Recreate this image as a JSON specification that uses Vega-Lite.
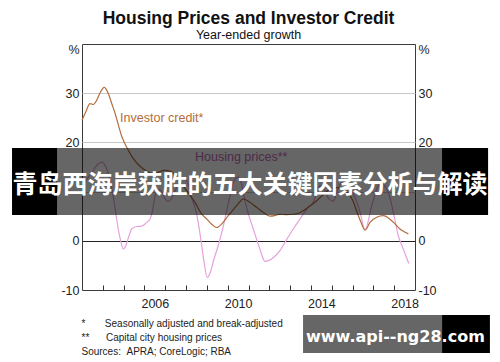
{
  "$schema": "https://vega.github.io/schema/vega-lite/v6.json",
  "width": 333,
  "height": 246,
  "autosize": {"type": "none"},
  "padding": {"left": 82, "top": 44, "right": 85, "bottom": 72},
  "background": "white",
  "title": {
    "text": "Housing Prices and Investor Credit",
    "subtitle": "Year-ended growth",
    "anchor": "middle",
    "font": "Liberation Sans",
    "fontSize": 17.5,
    "fontWeight": "bold",
    "color": "#111111",
    "subtitleFont": "Liberation Sans",
    "subtitleFontSize": 12.5,
    "subtitleColor": "#111111",
    "subtitlePadding": 2,
    "offset": 2
  },
  "config": {
    "view": {"stroke": "#3c3c3c", "strokeWidth": 1},
    "font": "Liberation Sans",
    "axis": {"labelFont": "Liberation Sans", "labelFontSize": 12.5, "labelColor": "#222222", "domain": false, "ticks": false, "grid": false}
  },
  "datasets": {
    "credit": [
      {"year": 2003.0, "value": 24.5}, {"year": 2003.2, "value": 26.4}, {"year": 2003.38, "value": 27.9}, {"year": 2003.54, "value": 27.7},
      {"year": 2003.71, "value": 28.6}, {"year": 2003.86, "value": 30.0}, {"year": 2004.07, "value": 31.2}, {"year": 2004.26, "value": 30.0},
      {"year": 2004.42, "value": 28.0}, {"year": 2004.59, "value": 25.9}, {"year": 2004.75, "value": 23.5}, {"year": 2004.91, "value": 21.2},
      {"year": 2005.0, "value": 20.3}, {"year": 2005.2, "value": 18.6}, {"year": 2005.45, "value": 16.8}, {"year": 2005.75, "value": 15.3},
      {"year": 2006.05, "value": 14.3}, {"year": 2006.35, "value": 13.7}, {"year": 2006.65, "value": 13.9}, {"year": 2006.95, "value": 14.3},
      {"year": 2007.25, "value": 14.1}, {"year": 2007.55, "value": 13.0}, {"year": 2007.85, "value": 11.2}, {"year": 2008.15, "value": 9.5},
      {"year": 2008.43, "value": 7.8}, {"year": 2008.72, "value": 5.6}, {"year": 2009.0, "value": 4.4}, {"year": 2009.25, "value": 3.3},
      {"year": 2009.47, "value": 2.7}, {"year": 2009.75, "value": 3.6}, {"year": 2010.03, "value": 5.1}, {"year": 2010.3, "value": 6.5},
      {"year": 2010.5, "value": 7.5}, {"year": 2010.75, "value": 8.5}, {"year": 2011.05, "value": 7.9}, {"year": 2011.39, "value": 6.8},
      {"year": 2011.7, "value": 5.8}, {"year": 2012.03, "value": 5.0}, {"year": 2012.25, "value": 5.1}, {"year": 2012.51, "value": 5.4},
      {"year": 2012.85, "value": 5.3}, {"year": 2013.15, "value": 5.4}, {"year": 2013.4, "value": 5.6}, {"year": 2013.63, "value": 6.1},
      {"year": 2013.95, "value": 7.1}, {"year": 2014.2, "value": 7.9}, {"year": 2014.44, "value": 8.8}, {"year": 2014.7, "value": 9.8},
      {"year": 2014.92, "value": 10.5}, {"year": 2015.2, "value": 10.8}, {"year": 2015.5, "value": 10.7}, {"year": 2015.75, "value": 9.8},
      {"year": 2016.0, "value": 8.3}, {"year": 2016.2, "value": 6.0}, {"year": 2016.4, "value": 3.8}, {"year": 2016.6, "value": 2.2},
      {"year": 2016.85, "value": 3.8}, {"year": 2017.16, "value": 4.8}, {"year": 2017.48, "value": 5.1}, {"year": 2017.8, "value": 4.4},
      {"year": 2018.05, "value": 3.4}, {"year": 2018.28, "value": 2.4}, {"year": 2018.5, "value": 1.8}, {"year": 2018.68, "value": 1.4}
    ],
    "prices": [
      {"year": 2003.0, "value": 11.5}, {"year": 2003.25, "value": 12.6}, {"year": 2003.5, "value": 14.1}, {"year": 2003.75, "value": 15.5},
      {"year": 2003.95, "value": 16.0}, {"year": 2004.15, "value": 15.0}, {"year": 2004.33, "value": 12.6}, {"year": 2004.5, "value": 9.1},
      {"year": 2004.63, "value": 5.4}, {"year": 2004.74, "value": 2.4}, {"year": 2004.86, "value": 0.0}, {"year": 2004.98, "value": -1.7},
      {"year": 2005.1, "value": -1.0}, {"year": 2005.25, "value": 0.9}, {"year": 2005.39, "value": 2.4}, {"year": 2005.6, "value": 2.9},
      {"year": 2005.87, "value": 3.0}, {"year": 2006.1, "value": 3.7}, {"year": 2006.27, "value": 4.4}, {"year": 2006.4, "value": 6.4},
      {"year": 2006.51, "value": 9.1}, {"year": 2006.65, "value": 10.4}, {"year": 2006.8, "value": 10.2}, {"year": 2006.98, "value": 8.6},
      {"year": 2007.15, "value": 8.0}, {"year": 2007.35, "value": 8.9}, {"year": 2007.6, "value": 11.3}, {"year": 2007.85, "value": 12.8},
      {"year": 2008.05, "value": 12.1}, {"year": 2008.25, "value": 9.0}, {"year": 2008.51, "value": 5.4}, {"year": 2008.7, "value": 0.6},
      {"year": 2008.86, "value": -4.2}, {"year": 2009.02, "value": -7.5}, {"year": 2009.15, "value": -6.6}, {"year": 2009.35, "value": -3.6},
      {"year": 2009.55, "value": -0.9}, {"year": 2009.79, "value": 3.0}, {"year": 2010.11, "value": 9.1}, {"year": 2010.3, "value": 12.2},
      {"year": 2010.5, "value": 13.0}, {"year": 2010.68, "value": 11.3}, {"year": 2010.83, "value": 8.1}, {"year": 2011.0, "value": 5.4},
      {"year": 2011.23, "value": 2.4}, {"year": 2011.55, "value": -1.7}, {"year": 2011.79, "value": -4.2}, {"year": 2012.11, "value": -3.7},
      {"year": 2012.51, "value": -2.0}, {"year": 2012.84, "value": 0.3}, {"year": 2013.15, "value": 2.4}, {"year": 2013.47, "value": 4.4},
      {"year": 2013.87, "value": 6.8}, {"year": 2014.11, "value": 7.8}, {"year": 2014.3, "value": 10.2}, {"year": 2014.44, "value": 11.2},
      {"year": 2014.62, "value": 10.5}, {"year": 2014.85, "value": 8.6}, {"year": 2015.07, "value": 8.0}, {"year": 2015.3, "value": 10.6},
      {"year": 2015.55, "value": 12.0}, {"year": 2015.8, "value": 11.3}, {"year": 2016.0, "value": 9.8}, {"year": 2016.12, "value": 8.8},
      {"year": 2016.36, "value": 5.8}, {"year": 2016.6, "value": 2.2}, {"year": 2016.92, "value": 7.1}, {"year": 2017.24, "value": 11.2},
      {"year": 2017.42, "value": 11.6}, {"year": 2017.6, "value": 10.8}, {"year": 2017.72, "value": 9.8}, {"year": 2017.96, "value": 5.8},
      {"year": 2018.2, "value": 1.0}, {"year": 2018.44, "value": -1.7}, {"year": 2018.7, "value": -4.6}
    ]
  },
  "resolve": {"axis": {"x": "independent", "y": "independent"}},
  "layer": [
    {
      "data": {"name": "prices"},
      "mark": {"type": "line", "color": "#e6a1dc", "strokeWidth": 1.2, "interpolate": "monotone"},
      "encoding": {
        "x": {"field": "year", "type": "quantitative", "scale": {"domain": [2003, 2019], "nice": false, "zero": false},
          "axis": {
            "orient": "bottom",
            "values": [2004, 2005, 2006, 2007, 2008, 2009, 2010, 2011, 2012, 2013, 2014, 2015, 2016, 2017, 2018],
            "ticks": true, "tickSize": -5, "tickColor": "#333333", "tickWidth": 1,
            "domain": false, "grid": false,
            "labelOffset": 10.4, "labelPadding": 12,
            "labelExpr": "datum.value % 4 == 2 ? '' + datum.value : ''",
            "labelOverlap": false, "labelBound": false, "labelFlush": false,
            "title": ["*\u00a0\u00a0\u00a0\u00a0\u00a0\u00a0\u00a0Seasonally adjusted and break-adjusted", "**\u00a0\u00a0\u00a0\u00a0\u00a0\u00a0Capital city housing prices", "Sources:\u00a0\u00a0APRA; CoreLogic; RBA"],
            "titleFont": "Liberation Sans", "titleFontSize": 10, "titleFontWeight": "normal", "titleColor": "#222222",
            "titleAnchor": "start", "titleAlign": "left", "titleBaseline": "top",
            "titleX": -1, "titleY": 28, "titleLineHeight": 14.2
          }},
        "y": {"field": "value", "type": "quantitative", "scale": {"domain": [-10, 40], "nice": false, "zero": false},
          "axis": {
            "orient": "right", "values": [-10, 0, 10, 20, 30, 38.8],
            "labelExpr": "datum.value > 35 ? '%' : (datum.value == 10 ? '' : '' + datum.value)",
            "labelPadding": 3, "grid": false, "title": null
          }}
      }
    },
    {
      "data": {"name": "credit"},
      "mark": {"type": "line", "color": "#b36d3c", "strokeWidth": 1.2, "interpolate": "monotone"},
      "encoding": {
        "x": {"field": "year", "type": "quantitative", "axis": null},
        "y": {"field": "value", "type": "quantitative",
          "axis": {
            "orient": "left", "values": [-10, 0, 10, 20, 30, 38.8],
            "labelExpr": "datum.value > 35 ? '%' : (datum.value == 10 ? '' : '' + datum.value)",
            "labelPadding": 3, "title": null,
            "grid": true, "gridWidth": 1,
            "gridColor": {"condition": {"test": "datum.value == 0", "value": "#222222"}, "value": "#c8c8c8"},
            "gridOpacity": {"condition": {"test": "datum.value < -5 || datum.value > 35", "value": 0}, "value": 1}
          }}
      }
    },
    {
      "data": {"values": [{}]},
      "mark": {"type": "text", "text": "Investor credit*", "align": "left", "baseline": "middle", "fontSize": 12.5, "font": "Liberation Sans", "color": "#b36d3c"},
      "encoding": {
        "x": {"datum": 2004.83, "type": "quantitative", "axis": null},
        "y": {"datum": 24.96, "type": "quantitative", "axis": null}
      }
    },
    {
      "data": {"values": [{}]},
      "mark": {"type": "text", "text": "Housing prices**", "align": "left", "baseline": "middle", "fontSize": 12.5, "font": "Liberation Sans", "color": "#c06cb6"},
      "encoding": {
        "x": {"datum": 2008.43, "type": "quantitative", "axis": null},
        "y": {"datum": 17.03, "type": "quantitative", "axis": null}
      }
    },
    {
      "data": {"values": [{}]},
      "mark": {"type": "rect", "color": "#000000", "opacity": 0.6},
      "encoding": {
        "x": {"datum": 1999.64, "type": "quantitative", "axis": null},
        "x2": {"datum": 2022.51},
        "y": {"datum": 18.86, "type": "quantitative", "axis": null},
        "y2": {"datum": 5.24}
      }
    },
    {
      "data": {"values": [{}]},
      "mark": {"type": "rect", "color": "#000000", "opacity": 1},
      "encoding": {
        "x": {"datum": 1999.64, "type": "quantitative", "axis": null},
        "x2": {"datum": 2001.8},
        "y": {"datum": 18.86, "type": "quantitative", "axis": null},
        "y2": {"datum": 5.24}
      }
    },
    {
      "data": {"values": [{}]},
      "mark": {"type": "rect", "color": "#000000", "opacity": 1},
      "encoding": {
        "x": {"datum": 2020.3, "type": "quantitative", "axis": null},
        "x2": {"datum": 2022.51},
        "y": {"datum": 18.86, "type": "quantitative", "axis": null},
        "y2": {"datum": 5.24}
      }
    },
    {
      "data": {"values": [{}]},
      "mark": {"type": "text", "text": "青岛西海岸获胜的五大关键因素分析与解读", "align": "center", "baseline": "middle", "fontSize": 25, "fontWeight": "bold", "font": "Noto Sans CJK SC", "color": "#ffffff"},
      "encoding": {
        "x": {"datum": 2011.07, "type": "quantitative", "axis": null},
        "y": {"datum": 11.34, "type": "quantitative", "axis": null}
      }
    },
    {
      "data": {"values": [{}]},
      "mark": {"type": "rect", "color": "#000000", "opacity": 0.6},
      "encoding": {
        "x": {"datum": 2013.62, "type": "quantitative", "axis": null},
        "x2": {"datum": 2020.3},
        "y": {"datum": -15.08, "type": "quantitative", "axis": null},
        "y2": {"datum": -22.8}
      }
    },
    {
      "data": {"values": [{}]},
      "mark": {"type": "rect", "color": "#000000", "opacity": 1},
      "encoding": {
        "x": {"datum": 2020.3, "type": "quantitative", "axis": null},
        "x2": {"datum": 2022.6},
        "y": {"datum": -15.08, "type": "quantitative", "axis": null},
        "y2": {"datum": -22.8}
      }
    },
    {
      "data": {"values": [{}]},
      "mark": {"type": "text", "text": "www.api--ng28.com", "align": "center", "baseline": "middle", "fontSize": 16, "fontWeight": "bold", "font": "DejaVu Sans", "color": "#ffffff"},
      "encoding": {
        "x": {"datum": 2018.06, "type": "quantitative", "axis": null},
        "y": {"datum": -19.55, "type": "quantitative", "axis": null}
      }
    }
  ]
}
